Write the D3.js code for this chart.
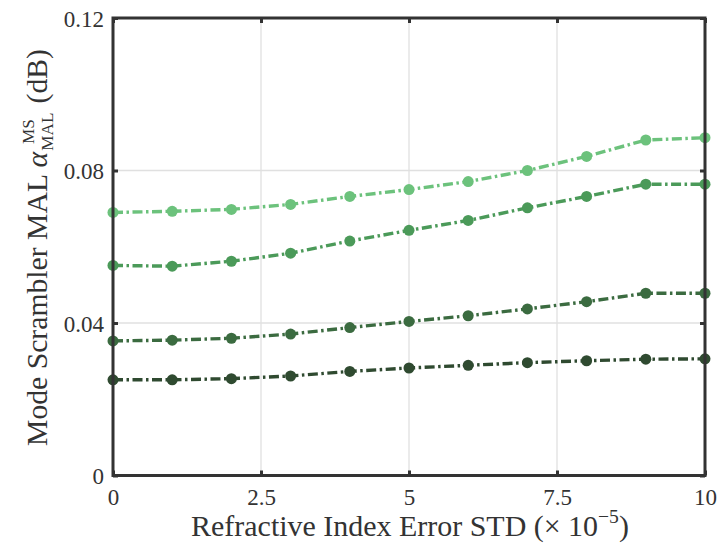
<!DOCTYPE html>
<html><head><meta charset="utf-8">
<script src="https://cdn.jsdelivr.net/npm/d3@7"></script>
<style>body{margin:0;background:#fff}svg{display:block}text{font-family:"Liberation Serif","DejaVu Serif",serif;fill:#333}</style>
</head><body><svg id="c" width="723" height="544"></svg>
<script>
const xValues = [0,1,2,3,4,5,6,7,8,9,10];
const series1 = [0.0690,0.0693,0.0698,0.0711,0.0732,0.0750,0.0771,0.0800,0.0837,0.0880,0.0886];
const series2 = [0.0551,0.0549,0.0562,0.0583,0.0615,0.0643,0.0669,0.0702,0.0732,0.0764,0.0764];
const series3 = [0.0353,0.0355,0.0360,0.0371,0.0388,0.0404,0.0419,0.0437,0.0456,0.0478,0.0478];
const series4 = [0.0251,0.0251,0.0254,0.0261,0.0273,0.0282,0.0289,0.0296,0.0301,0.0305,0.0306];
const seriesColors = ["#6cc27c","#4b9a59","#3b6b40","#2f4a30"];
const xTicks = [0,2.5,5,7.5,10];
const xTickLabels = ["0","2.5","5","7.5","10"];
const yTicks = [0,0.04,0.08,0.12];
const yTickLabels = ["0","0.04","0.08","0.12"];

const svg = d3.select("#c");
const L=113, R=705, T=18, B=475.5;
const x = d3.scaleLinear().domain([0,10]).range([L,R]);
const y = d3.scaleLinear().domain([0,0.12]).range([B,T]);

// grid
svg.append("g").selectAll("line").data(xTicks.slice(1,-1)).join("line")
  .attr("x1",d=>x(d)).attr("x2",d=>x(d)).attr("y1",T).attr("y2",B)
  .attr("stroke","#e0e0e0").attr("stroke-width",1.3);
svg.append("g").selectAll("line").data(yTicks.slice(1,-1)).join("line")
  .attr("y1",d=>y(d)).attr("y2",d=>y(d)).attr("x1",L).attr("x2",R)
  .attr("stroke","#e0e0e0").attr("stroke-width",1.3);

// series
const all = [series1,series2,series3,series4];
const line = d3.line().x((d,i)=>x(xValues[i])).y(d=>y(d));
all.forEach((s,k)=>{
  const g = svg.append("g");
  g.append("path").attr("d",line(s)).attr("fill","none")
    .attr("stroke",seriesColors[k]).attr("stroke-width",3.4)
    .attr("stroke-dasharray","10,3.5,2.5,3.5");
  g.selectAll("circle").data(s).join("circle")
    .attr("cx",(d,i)=>x(xValues[i])).attr("cy",d=>y(d)).attr("r",5.5)
    .attr("fill",seriesColors[k]);
});

// axes with inward ticks
const ax = d3.axisBottom(x).tickValues(xTicks).tickFormat((d,i)=>xTickLabels[i]).tickSize(-5).tickPadding(13);
const gx = svg.append("g").attr("transform",`translate(0,${B})`).call(ax);
const axT = d3.axisTop(x).tickValues(xTicks).tickFormat("").tickSize(-5);
const gxt = svg.append("g").attr("transform",`translate(0,${T})`).call(axT);
const ay = d3.axisLeft(y).tickValues(yTicks).tickFormat((d,i)=>yTickLabels[i]).tickSize(-5).tickPadding(9);
const gy = svg.append("g").attr("transform",`translate(${L},0)`).call(ay);
const ayR = d3.axisRight(y).tickValues(yTicks).tickFormat("").tickSize(-5);
const gyr = svg.append("g").attr("transform",`translate(${R},0)`).call(ayR);
[gx,gxt,gy,gyr].forEach(g=>{
  g.select(".domain").remove();
  g.selectAll(".tick line").attr("stroke","#333").attr("stroke-width",3);
  g.selectAll("text").attr("font-size",23).attr("fill","#333")
    .style("font-family",'"Liberation Serif",serif');
});
gy.selectAll("text").attr("dy","0.35em");
gx.selectAll("text").attr("dy","0.71em");

// frame
svg.append("rect").attr("x",L).attr("y",T).attr("width",R-L).attr("height",B-T)
  .attr("fill","none").attr("stroke","#333").attr("stroke-width",3);

// x label, fitted to the reference width (191..629)
const xlG = svg.append("g");
const xl = xlG.append("text").attr("x",0).attr("y",0).attr("text-anchor","middle")
  .attr("font-size",26);
xl.append("tspan").text("Refractive Index Error STD (× 10");
xl.append("tspan").attr("font-size",17).attr("dy",-11).text("−5");
xl.append("tspan").attr("dy",11).text(")");
{
  const bb = xl.node().getBBox();
  const s = 438 / bb.width;
  xlG.attr("transform",`translate(${410 - (bb.x + bb.width/2)*s},536) scale(${s})`);
}

// y label (rotated), fitted to the reference span (49..446)
const yl = svg.append("g");
const t1 = yl.append("text").attr("text-anchor","start").attr("font-size",26);
t1.append("tspan").text("Mode Scrambler MAL ");
t1.append("tspan").attr("font-style","italic").text("α");
const w1 = t1.node().getComputedTextLength();
const t2 = yl.append("text").attr("font-size",15);
t2.append("tspan").attr("dy",-11).text("MS");
const t3 = yl.append("text").attr("font-size",15);
t3.append("tspan").attr("dy",5).text("MAL");
const w3 = t3.node().getComputedTextLength();
const t4 = yl.append("text").attr("font-size",26).text("(dB)");
const w4 = t4.node().getComputedTextLength();
const gap = 8;
const total = w1 + 1 + w3 + gap + w4;
const start = -total/2;
t1.attr("x",start);
const t2w = t2.node().getComputedTextLength();
t2.attr("x",start+w1+1+(w3-t2w)/2);
t3.attr("x",start+w1+1);
t4.attr("x",start+w1+1+w3+gap);
{
  const s = 397 / total;
  yl.attr("transform",`translate(47,247.5) rotate(-90) scale(${s})`);
}
</script></body></html>
